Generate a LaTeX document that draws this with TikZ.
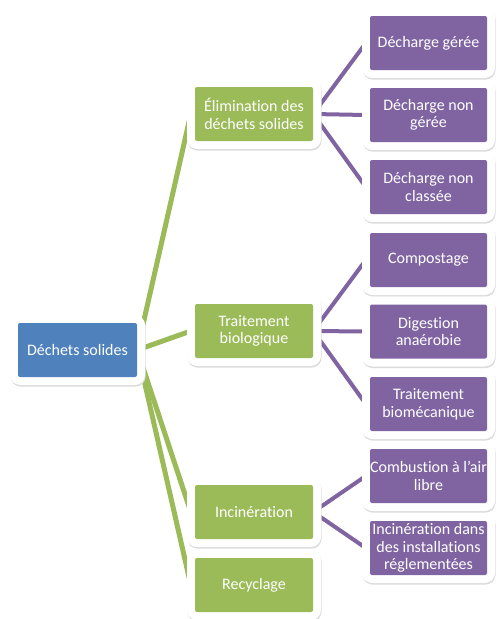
\documentclass[tikz,border=0pt]{standalone}
\usepackage{fontspec}
\setmainfont{Carlito}[Ligatures=NoCommon]
\usetikzlibrary{backgrounds}
\definecolor{cblue}{RGB}{79,129,189}
\definecolor{cgreen}{RGB}{155,187,89}
\definecolor{cpurple}{RGB}{128,100,162}
\begin{document}
\begin{tikzpicture}[x=1pt,y=-1pt,
  box/.style={rectangle, rounded corners=2pt, minimum width=118pt, minimum height=54pt,
    inner sep=0pt, text=white, align=center, font=\fontsize{16}{17.6}\selectfont,
    preaction={draw=black!14, line width=16pt, line join=round,
      transform canvas={xshift=0.6pt,yshift=-1.6pt}},
    preaction={draw=white, line width=16pt, line join=round}},
  rootbox/.style={box, fill=cblue, minimum width=119pt},
  gbox/.style={box, fill=cgreen},
  pbox/.style={box, fill=cpurple, minimum width=117pt},
  gline/.style={draw=cgreen, line width=5pt},
  pline/.style={draw=cpurple, line width=4pt}]
\useasboundingbox (0,0) rectangle (496,619);

\node[rootbox] (root) at (77.5,350) {Déchets solides};

\node[gbox] (elim) at (254,114) {Élimination des\\déchets solides};
\node[gbox] (bio) at (254,331) {Traitement\\biologique};
\node[gbox] (inc) at (254,512) {Incinération};
\node[gbox] (rec) at (254,585) {Recyclage};

\node[pbox] (p1) at (428.5,43) {Décharge gérée};
\node[pbox] (p2) at (428.5,115) {Décharge non\\gérée};
\node[pbox] (p3) at (428.5,187) {Décharge non\\classée};
\node[pbox] (p4) at (428.5,260) {Compostage};
\node[pbox] (p5) at (428.5,331.5) {Digestion\\anaérobie};
\node[pbox] (p6) at (428.5,404) {Traitement\\biomécanique};
\node[pbox] (p7) at (428.5,476) {Combustion à l’air\\libre};
\node[pbox] (p8) at (428.5,548) {Incinération dans\\des installations\\réglementées};

\begin{pgfonlayer}{background}
  \fill[white] (0,0) rectangle (496,619);
  \draw[gline] (root.east) -- ([xshift=-4pt]elim.west);
  \draw[gline] (root.east) -- ([xshift=-4pt]bio.west);
  \draw[gline] (root.east) -- ([xshift=-4pt]inc.west);
  \draw[gline] (root.east) -- ([xshift=-4pt]rec.west);
  \draw[pline] (elim.east) -- ([xshift=-4pt]p1.west);
  \draw[pline] (elim.east) -- ([xshift=-4pt]p2.west);
  \draw[pline] (elim.east) -- ([xshift=-4pt]p3.west);
  \draw[pline] (bio.east) -- ([xshift=-4pt]p4.west);
  \draw[pline] (bio.east) -- ([xshift=-4pt]p5.west);
  \draw[pline] (bio.east) -- ([xshift=-4pt]p6.west);
  \draw[pline] (inc.east) -- ([xshift=-4pt]p7.west);
  \draw[pline] (inc.east) -- ([xshift=-4pt]p8.west);
\end{pgfonlayer}
\end{tikzpicture}
\end{document}
